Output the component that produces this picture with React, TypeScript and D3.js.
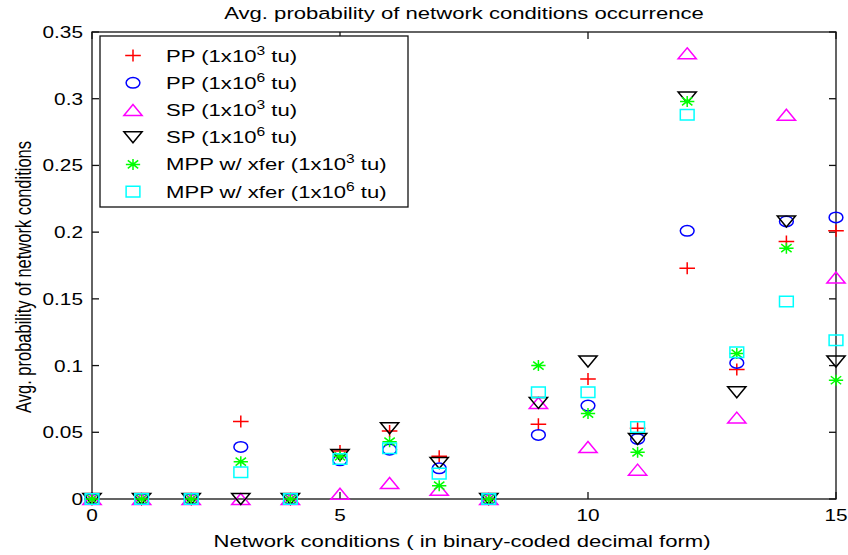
import React from "react";
import * as d3 from "d3";

// Network condition index (binary-coded decimal form)
const conditions = [0, 1, 2, 3, 4, 5, 6, 7, 8, 9, 10, 11, 12, 13, 14, 15];

const pp1e3 = [0, 0, 0, 0.058, 0, 0.036, 0.051, 0.032, 0, 0.056, 0.09, 0.053, 0.173, 0.097, 0.193, 0.201];
const pp1e6 = [0, 0, 0, 0.039, 0, 0.029, 0.037, 0.023, 0, 0.048, 0.07, 0.045, 0.201, 0.102, 0.208, 0.211];
const sp1e3 = [0, 0, 0, 0, 0, 0.004, 0.012, 0.007, 0, 0.072, 0.039, 0.022, 0.334, 0.061, 0.288, 0.166];
const sp1e6 = [0, 0, 0, 0, 0, 0.033, 0.053, 0.027, 0, 0.072, 0.103, 0.045, 0.301, 0.08, 0.208, 0.103];
const mpp1e3 = [0, 0, 0, 0.028, 0, 0.032, 0.043, 0.01, 0, 0.1, 0.064, 0.035, 0.298, 0.109, 0.188, 0.089];
const mpp1e6 = [0, 0, 0, 0.02, 0, 0.03, 0.038, 0.019, 0, 0.08, 0.08, 0.054, 0.288, 0.11, 0.148, 0.119];

const xTicks = [0, 5, 10, 15];
const yTicks = [0, 0.05, 0.1, 0.15, 0.2, 0.25, 0.3, 0.35];

type MarkerKind = "plus" | "circle" | "triUp" | "triDown" | "star" | "square";

const series: { name: string; exp: string; values: number[]; marker: MarkerKind; color: string }[] = [
  { name: "PP", exp: "3", values: pp1e3, marker: "plus", color: "#ff0000" },
  { name: "PP", exp: "6", values: pp1e6, marker: "circle", color: "#0000ff" },
  { name: "SP", exp: "3", values: sp1e3, marker: "triUp", color: "#ff00ff" },
  { name: "SP", exp: "6", values: sp1e6, marker: "triDown", color: "#000000" },
  { name: "MPP w/ xfer", exp: "3", values: mpp1e3, marker: "star", color: "#00ff00" },
  { name: "MPP w/ xfer", exp: "6", values: mpp1e6, marker: "square", color: "#00ffff" },
];

const W = 848;
const H = 555;
const plot = { left: 92, right: 836, top: 32, bottom: 499 };
const SX = 1.3; // horizontal glyph stretch
const FONT = "'Liberation Sans', Arial, sans-serif";

const x = d3.scaleLinear().domain([0, 15]).range([plot.left, plot.right]);
const y = d3.scaleLinear().domain([0, 0.35]).range([plot.bottom, plot.top]);

function Marker({ kind, cx, cy, color }: { kind: MarkerKind; cx: number; cy: number; color: string }) {
  const common = {
    fill: "none",
    stroke: color,
    strokeWidth: 1.5,
    vectorEffect: "non-scaling-stroke" as const,
  };
  let shape: React.ReactNode = null;
  if (kind === "plus") shape = <path d="M-6,0H6M0,-6V6" {...common} />;
  else if (kind === "circle") shape = <circle r={5.3} {...common} />;
  else if (kind === "square") shape = <rect x={-5.3} y={-5.3} width={10.6} height={10.6} {...common} />;
  else if (kind === "triUp") shape = <path d="M0,-5.5L7,5.5L-7,5.5Z" {...common} />;
  else if (kind === "triDown") shape = <path d="M0,5.5L7,-5.5L-7,-5.5Z" {...common} />;
  else if (kind === "star")
    shape = <path d="M-5.5,0H5.5M0,-5.5V5.5M-4,-4L4,4M-4,4L4,-4" {...common} />;
  return <g transform={`translate(${cx},${cy}) scale(${SX},1)`}>{shape}</g>;
}

function SText({
  x: tx,
  y: ty,
  size,
  anchor = "start",
  children,
}: {
  x: number;
  y: number;
  size: number;
  anchor?: "start" | "middle" | "end";
  children: React.ReactNode;
}) {
  return (
    <g transform={`translate(${tx},${ty}) scale(${SX},1)`}>
      <text fontFamily={FONT} fontSize={size} textAnchor={anchor} fill="#000">
        {children}
      </text>
    </g>
  );
}

export default function App() {
  const tickLen = 7;
  const legend = { x: 100, y: 36, w: 308, h: 171, row0: 55.6, step: 27.2, mx: 133, tx: 166 };
  return (
    <svg width={W} height={H} style={{ position: "absolute", left: 0, top: 0, background: "#fff" }}>
      <rect width={W} height={H} fill="#fff" />
      {/* title */}
      <SText x={(plot.left + plot.right) / 2} y={19} size={17} anchor="middle">
        Avg. probability of network conditions occurrence
      </SText>

      {/* axes box */}
      <rect
        x={plot.left}
        y={plot.top}
        width={plot.right - plot.left}
        height={plot.bottom - plot.top}
        fill="none"
        stroke="#111"
        strokeWidth={1.3}
      />
      {yTicks.map((t) => (
        <g key={`y${t}`}>
          <line x1={plot.left} x2={plot.left + tickLen} y1={y(t)} y2={y(t)} stroke="#111" strokeWidth={1.3} />
          <line x1={plot.right} x2={plot.right - tickLen} y1={y(t)} y2={y(t)} stroke="#111" strokeWidth={1.3} />
          <SText x={83} y={y(t) + 6} size={16} anchor="end">
            {String(+t.toFixed(2))}
          </SText>
        </g>
      ))}
      {xTicks.map((t) => (
        <g key={`x${t}`}>
          <line x1={x(t)} x2={x(t)} y1={plot.bottom} y2={plot.bottom - tickLen} stroke="#111" strokeWidth={1.3} />
          <line x1={x(t)} x2={x(t)} y1={plot.top} y2={plot.top + tickLen} stroke="#111" strokeWidth={1.3} />
          <SText x={x(t)} y={521} size={16} anchor="middle">
            {String(t)}
          </SText>
        </g>
      ))}

      {/* axis labels */}
      <SText x={(plot.left + plot.right) / 2 - 2} y={547} size={17} anchor="middle">
        Network conditions ( in binary-coded decimal form)
      </SText>
      <g transform={`translate(31,277) scale(${SX},1) rotate(-90)`}>
        <text fontFamily={FONT} fontSize={16.5} textAnchor="middle" fill="#000">
          Avg. probability of network conditions
        </text>
      </g>

      {/* data */}
      {series.map((s, i) => (
        <g key={i}>
          {conditions.map((c, j) => (
            <Marker key={j} kind={s.marker} cx={x(c)} cy={y(s.values[j])} color={s.color} />
          ))}
        </g>
      ))}

      {/* legend */}
      <rect x={legend.x} y={legend.y} width={legend.w} height={legend.h} fill="#fff" stroke="#111" strokeWidth={1.3} />
      {series.map((s, i) => {
        const ry = legend.row0 + i * legend.step;
        return (
          <g key={`l${i}`}>
            <Marker kind={s.marker} cx={legend.mx} cy={ry} color={s.color} />
            <SText x={legend.tx} y={ry + 6} size={17}>
              {`${s.name} (1x10`}
              <tspan fontSize={12} dy={-7}>
                {s.exp}
              </tspan>
              <tspan dy={7}>{" tu)"}</tspan>
            </SText>
          </g>
        );
      })}
    </svg>
  );
}
